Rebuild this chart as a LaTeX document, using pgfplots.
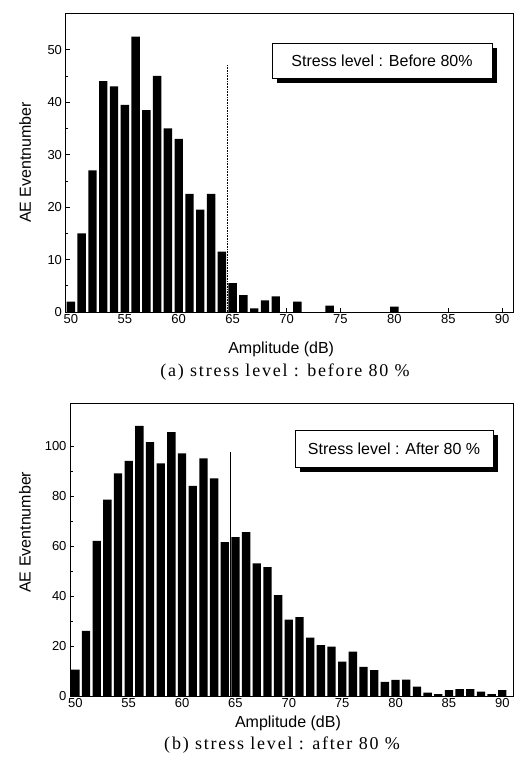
\documentclass[border=0pt]{standalone}
\usepackage{fontspec}
\setmainfont{Liberation Sans}
\newfontfamily\capfont[LetterSpace=10]{Liberation Serif}
\usepackage{pgfplots}
\usepackage{pgfplotstable}
\pgfplotsset{compat=1.18}
\usetikzlibrary{shadows}

% AE hit counts per amplitude bin (dB), stress level before 80 %
\pgfplotstableread{
amp count
50 2
51 15
52 27
53 44
54 43
55 39.5
56 52.5
57 38.5
58 45
59 35
60 33
61 22.5
62 19.5
63 22.5
64 11.5
65 5.5
66 3.2
67 0.7
68 2.2
69 3
71 2
74 1.2
80 1
}\before

% AE hit counts per amplitude bin (dB), stress level after 80 %
\pgfplotstableread{
amp count
50 10.5
51 26
52 62
53 78.5
54 89
55 94
56 108
57 101.5
58 93
59 105.5
60 97
61 84
62 95
63 87
64 61.5
65 63.5
66 65.5
67 53
68 51.5
69 40.3
70 30.5
71 31.5
72 23.3
73 20.3
74 19.7
75 13.7
76 17.7
77 11.6
78 10.3
79 5.6
80 6.4
81 6.5
82 3.7
83 1.3
84 0.7
85 2.3
86 2.7
87 2.7
88 1.7
89 0.7
90 2.3
}\after

\pgfplotsset{
  aehist/.style={
    scale only axis, clip=false, enlargelimits=false,
    xmin=49.5, xmax=91,
    xtick={50,55,...,90},
    tick align=inside, xtick pos=left, ytick pos=left,
    minor y tick num=1,
    major tick length=4pt, minor tick length=2.5pt,
    axis line style={line width=0.9pt},
    tick style={black, line width=0.7pt},
    tick label style={font=\fontsize{13pt}{15pt}\selectfont},
    /pgf/number format/assume math mode=true,
    xticklabel style={inner sep=2.5pt},
    xlabel={Amplitude (dB)},
    ylabel={AE Eventnumber},
    label style={font=\fontsize{16pt}{18pt}\selectfont},
  },
  aebar/.style={ybar, bar width=0.78, fill=black, draw=none},
}
\tikzset{
  stressbox/.style={draw=black, fill=white, line width=0.6pt, inner sep=0pt,
    font=\fontsize{16pt}{18pt}\selectfont,
    drop shadow={shadow xshift=5pt, shadow yshift=-5pt, fill=black, opacity=1}},
  capnode/.style={font=\capfont\fontsize{18pt}{20pt}\selectfont, anchor=center},
}

\begin{document}
\begin{tikzpicture}
\path[use as bounding box] (0,0) rectangle (514pt,770pt);

% (a) before 80 %
\begin{axis}[aehist,
  at={(65.5pt,458pt)}, anchor=south west,
  width=447.5pt, height=299pt,
  ymin=0, ymax=57, ytick={0,10,...,50},
  xlabel style={at={(axis description cs:0.482,-0.1237)}, anchor=center},
  ylabel style={at={(axis description cs:-0.09,0.5)}, anchor=center},
]
\addplot[aebar] table[x=amp, y=count] {\before};
\addplot[black, densely dotted, line width=0.6pt] coordinates {(64.55,0) (64.55,47)};
\node[stressbox, minimum width=220pt, minimum height=35pt]
  at (axis description cs:0.7073,0.841) {Stress level : Before 80\%};
\node[capnode] at (axis description cs:0.4905,-0.2007)
  {(a) stress level : before 80 \%};
\end{axis}

% (b) after 80 %
\begin{axis}[aehist,
  at={(70pt,74pt)}, anchor=south west,
  width=443pt, height=292.5pt,
  ymin=0, ymax=117, ytick={0,20,...,100},
  xlabel style={at={(axis description cs:0.492,-0.092)}, anchor=center},
  ylabel style={at={(axis description cs:-0.1016,0.56)}, anchor=center},
]
\addplot[aebar] table[x=amp, y=count] {\after};
\addplot[black, line width=0.6pt] coordinates {(64.55,0) (64.55,97.6)};
\node[stressbox, minimum width=198pt, minimum height=37pt]
  at (axis description cs:0.7314,0.846) {Stress level : After 80 \%};
\node[capnode] at (axis description cs:0.4786,-0.1675)
  {(b) stress level : after 80 \%};
\end{axis}
\end{tikzpicture}
\end{document}
